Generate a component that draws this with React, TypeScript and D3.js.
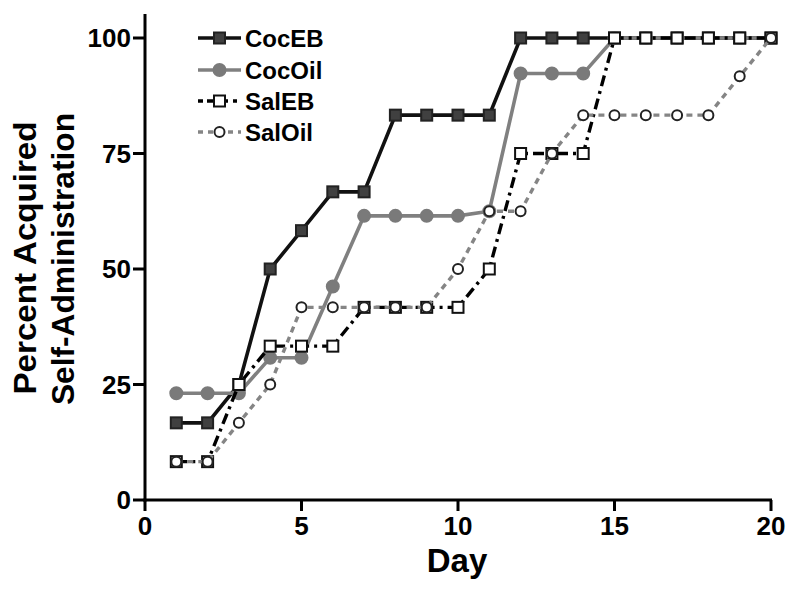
import React from "react";
import * as d3 from "d3";

const days = [1, 2, 3, 4, 5, 6, 7, 8, 9, 10, 11, 12, 13, 14, 15, 16, 17, 18, 19, 20];
const cocEB = [16.7, 16.7, 25, 50, 58.3, 66.7, 66.7, 83.3, 83.3, 83.3, 83.3, 100, 100, 100, 100, 100, 100, 100, 100, 100];
const cocOil = [23.1, 23.1, 23.1, 30.8, 30.8, 46.2, 61.5, 61.5, 61.5, 61.5, 62.5, 92.3, 92.3, 92.3, 100, 100, 100, 100, 100, 100];
const salEB = [8.3, 8.3, 25, 33.3, 33.3, 33.3, 41.7, 41.7, 41.7, 41.7, 50, 75, 75, 75, 100, 100, 100, 100, 100, 100];
const salOil = [8.3, 8.3, 16.7, 25, 41.7, 41.7, 41.7, 41.7, 41.7, 50, 62.5, 62.5, 75, 83.3, 83.3, 83.3, 83.3, 83.3, 91.7, 100];
const xTicks = [0, 5, 10, 15, 20];
const yTicks = [0, 25, 50, 75, 100];
const seriesNames = ["CocEB", "CocOil", "SalEB", "SalOil"];

type Style = {
  name: string;
  values: number[];
  stroke: string;
  width: number;
  dash?: string;
  marker: "square" | "circle";
  size: number;
  fill: string;
  mstroke: string;
};

const styles: Style[] = [
  { name: seriesNames[0], values: cocEB, stroke: "#111", width: 3.6, marker: "square", size: 11, fill: "#404040", mstroke: "#222" },
  { name: seriesNames[1], values: cocOil, stroke: "#808080", width: 3.6, marker: "circle", size: 6, fill: "#7a7a7a", mstroke: "#7a7a7a" },
  { name: seriesNames[2], values: salEB, stroke: "#000", width: 3.4, dash: "11,5,3,5", marker: "square", size: 11, fill: "#fff", mstroke: "#111" },
  { name: seriesNames[3], values: salOil, stroke: "#858585", width: 3.4, dash: "6,5", marker: "circle", size: 5, fill: "#fff", mstroke: "#222" },
];

const W = 800;
const H = 593;
const x = d3.scaleLinear().domain([0, 20]).range([145, 771]);
const y = d3.scaleLinear().domain([0, 100]).range([500, 38]);

function Marker({ s, cx, cy }: { s: Style; cx: number; cy: number }) {
  if (s.marker === "square") {
    return (
      <rect x={cx - s.size / 2} y={cy - s.size / 2} width={s.size} height={s.size} fill={s.fill} stroke={s.mstroke} strokeWidth={2} />
    );
  }
  return <circle cx={cx} cy={cy} r={s.size} fill={s.fill} stroke={s.mstroke} strokeWidth={2} />;
}

export default function App() {
  const line = d3
    .line<number>()
    .x((_, i) => x(days[i]))
    .y((v) => y(v));
  const font = "'Liberation Sans', Arial, Helvetica, sans-serif";
  const legendY = [38, 70, 101, 132];
  return (
    <svg width={W} height={H} style={{ position: "absolute", left: 0, top: 0, background: "#fff" }} fontFamily={font}>
      {/* axes */}
      <line x1={145} x2={145} y1={14} y2={501.5} stroke="#000" strokeWidth={3} />
      <line x1={143.5} x2={772} y1={500} y2={500} stroke="#000" strokeWidth={3} />
      {yTicks.map((t) => (
        <g key={"y" + t}>
          <line x1={133} x2={145} y1={y(t)} y2={y(t)} stroke="#000" strokeWidth={3} />
          <text x={131} y={y(t)} dy="0.36em" textAnchor="end" fontSize={26} fontWeight="bold">
            {t}
          </text>
        </g>
      ))}
      {xTicks.map((t) => (
        <g key={"x" + t}>
          <line x1={x(t)} x2={x(t)} y1={500} y2={511} stroke="#000" strokeWidth={3} />
          <text x={x(t)} y={535} textAnchor="middle" fontSize={26} fontWeight="bold">
            {t}
          </text>
        </g>
      ))}
      <text x={457} y={572} textAnchor="middle" fontSize={33} fontWeight="bold">
        Day
      </text>
      <text transform="translate(36,258) rotate(-90)" textAnchor="middle" fontSize={31} fontWeight="bold" textLength={273} lengthAdjust="spacingAndGlyphs">
        Percent Acquired
      </text>
      <text transform="translate(74,259) rotate(-90)" textAnchor="middle" fontSize={31} fontWeight="bold" textLength={292} lengthAdjust="spacingAndGlyphs">
        Self-Administration
      </text>
      {/* series */}
      {styles.map((s) => (
        <g key={s.name}>
          <path d={line(s.values) || ""} fill="none" stroke={s.stroke} strokeWidth={s.width} strokeDasharray={s.dash} />
          {s.values.map((v, i) => (
            <Marker key={i} s={s} cx={x(days[i])} cy={y(v)} />
          ))}
        </g>
      ))}
      {/* legend */}
      {styles.map((s, i) => (
        <g key={"l" + s.name}>
          <line x1={198} x2={241} y1={legendY[i]} y2={legendY[i]} stroke={s.stroke} strokeWidth={s.width} strokeDasharray={s.dash ? (i === 2 ? "5,4,12,4,5" : "5,5") : undefined} />
          <Marker s={s} cx={219.5} cy={legendY[i]} />
          <text x={245} y={legendY[i]} dy="0.36em" fontSize={24} fontWeight="bold">
            {s.name}
          </text>
        </g>
      ))}
    </svg>
  );
}
